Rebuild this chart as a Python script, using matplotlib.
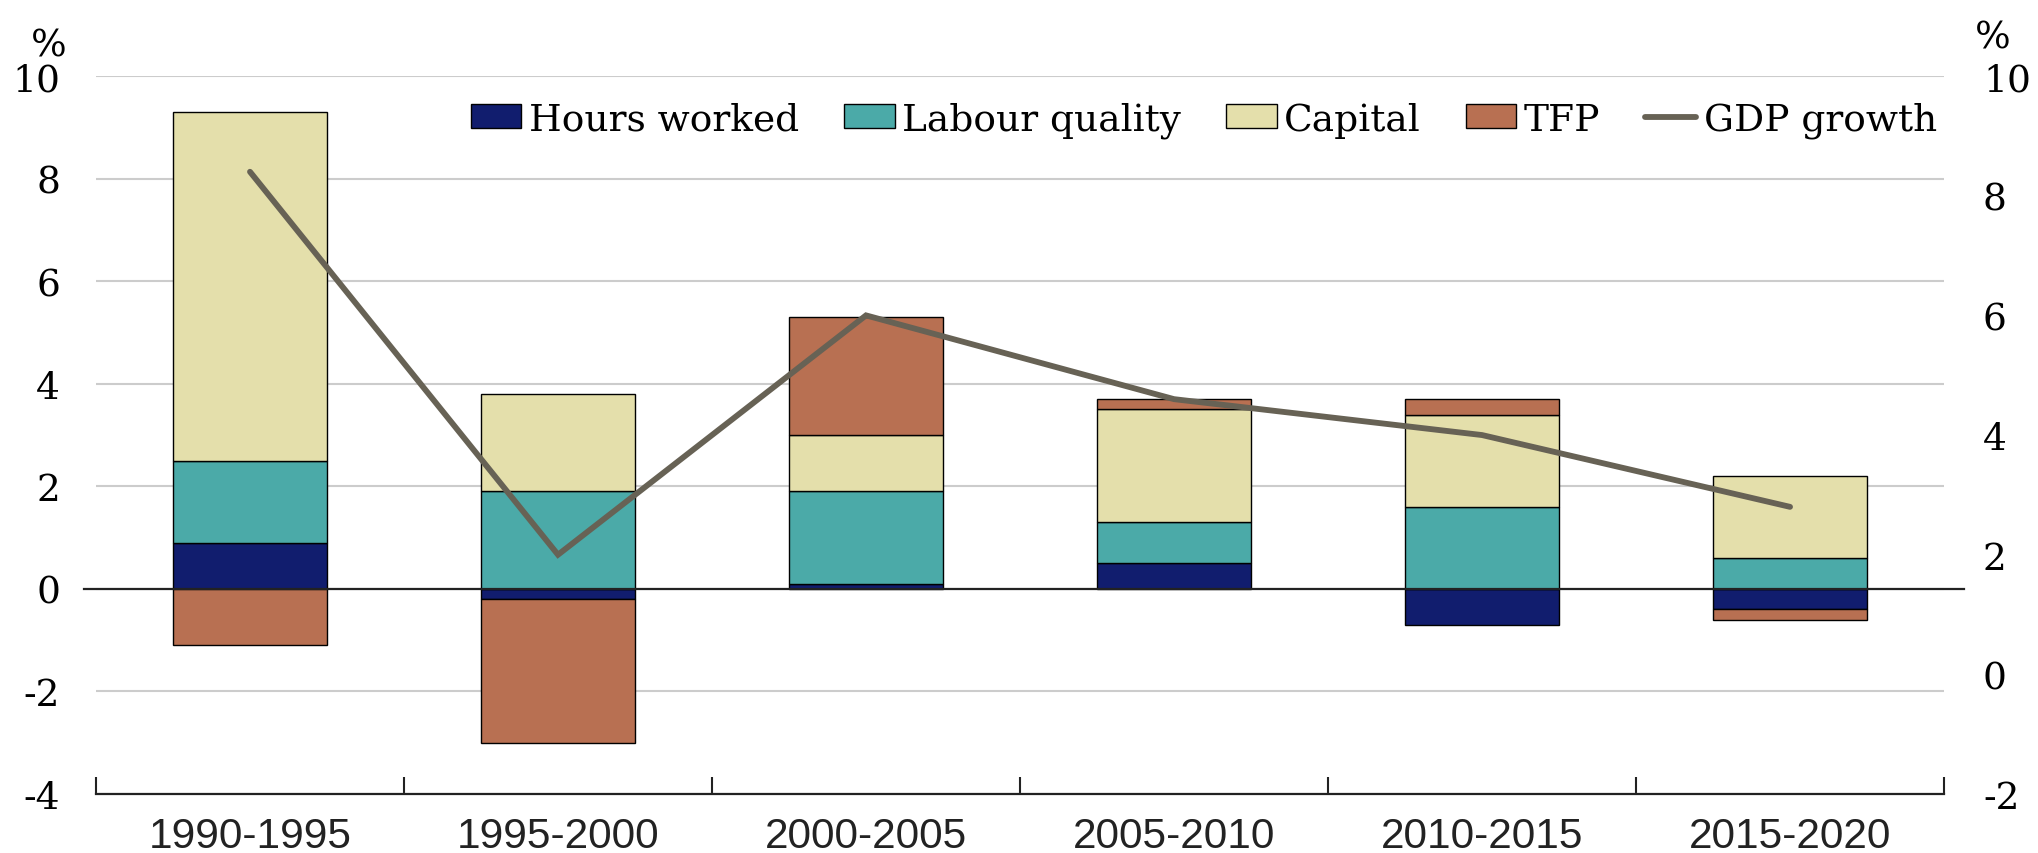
import numpy as np
import matplotlib.pyplot as plt
from matplotlib import font_manager
from matplotlib.patches import Patch
from matplotlib.lines import Line2D

# ================= Data =================
periods = ['1990-1995', '1995-2000', '2000-2005', '2005-2010', '2010-2015', '2015-2020']
hours_worked = [0.9, -0.2, 0.1, 0.5, -0.7, -0.4]
labour_quality = [1.6, 1.9, 1.8, 0.8, 1.6, 0.6]
capital = [6.8, 1.9, 1.1, 2.2, 1.8, 1.6]
tfp = [-1.1, -2.8, 2.3, 0.2, 0.3, -0.2]
gdp_growth = [8.4, 2.0, 6.0, 4.6, 4.0, 2.8]  # right axis

left_ticks = [-4, -2, 0, 2, 4, 6, 8, 10]
right_ticks = [-2, 0, 2, 4, 6, 8, 10]

series = [('Hours worked', hours_worked, '#111d6e'),
          ('Labour quality', labour_quality, '#4baaa8'),
          ('Capital', capital, '#e4dfab'),
          ('TFP', tfp, '#b87052')]
line_col = '#676255'

# ================= Fonts =================
installed = {f.name for f in font_manager.fontManager.ttflist}
serif = ['DejaVu Serif']
if 'Liberation Sans Narrow' in installed:
    xfont, xsize = 'Liberation Sans Narrow', 36
else:
    xfont, xsize = 'Liberation Sans', 30.5

# ================= Plot =================
fig = plt.figure(figsize=(20.38, 8.54), dpi=100)
ax = fig.add_axes([0.0471, 0.069, 0.9068, 0.8408])

x = np.arange(len(periods))
width = 0.5
pos_base = np.zeros(len(periods))
neg_base = np.zeros(len(periods))
for name, vals, col in series:
    vals = np.array(vals)
    bottoms = np.where(vals >= 0, pos_base, neg_base)
    ax.bar(x, vals, width, bottom=bottoms, color=col, edgecolor='black',
           linewidth=1.0, zorder=3)
    pos_base = pos_base + np.where(vals >= 0, vals, 0)
    neg_base = neg_base + np.where(vals < 0, vals, 0)

ax.set_xlim(-0.5, len(periods) - 0.5)
ax.set_ylim(-4, 10)
ax.set_yticks(left_ticks)
ax.set_yticklabels([str(t) for t in left_ticks], fontfamily=serif, fontsize=27)
ax.tick_params(axis='y', length=0, pad=26)
ax.grid(axis='y', color='#cccccc', linewidth=1.5, zorder=0)
ax.set_axisbelow(True)

# zero line
ax.axhline(0, xmin=-0.0065, xmax=1.011, color='#222222', linewidth=1.6,
           zorder=4, clip_on=False)

# category axis: labels at centres, ticks at boundaries
ax.set_xticks(x)
ax.set_xticklabels(periods, fontfamily=xfont, fontsize=xsize)
ax.set_xticks(np.arange(-0.5, len(periods)), minor=True)
ax.tick_params(axis='x', which='major', length=0, pad=16, colors='#222222')
ax.tick_params(axis='x', which='minor', direction='in', length=12, width=1.5,
               color='#222222')
for s in ['left', 'right', 'top']:
    ax.spines[s].set_visible(False)
ax.spines['bottom'].set_linewidth(1.6)
ax.spines['bottom'].set_color('#222222')

# GDP growth on the right axis
ax2 = ax.twinx()
ax2.plot(x, gdp_growth, color=line_col, linewidth=4.2, solid_capstyle='round',
         solid_joinstyle='miter', zorder=5)
ax2.set_ylim(-2, 10)
ax2.set_yticks(right_ticks)
ax2.set_yticklabels([str(t) for t in right_ticks], fontfamily=serif, fontsize=27)
ax2.tick_params(axis='y', length=0, pad=28)
for s in ['left', 'right', 'top', 'bottom']:
    ax2.spines[s].set_visible(False)

fig.text(0.024, 0.945, '%', fontfamily=serif, fontsize=27, ha='center', va='center')
fig.text(0.978, 0.955, '%', fontfamily=serif, fontsize=27, ha='center', va='center')

# ================= Legend =================
handles = [Patch(facecolor=col, edgecolor='black', linewidth=1.0) for _, _, col in series]
handles.append(Line2D([0], [0], color=line_col, linewidth=4.2, solid_capstyle='round'))
labels = [name for name, _, _ in series] + ['GDP growth']
ax2.legend(handles, labels, loc='center right', bbox_to_anchor=(0.996, 0.939),
           ncol=5, frameon=False, prop={'family': serif, 'size': 27},
           handlelength=1.35, handleheight=0.6, handletextpad=0.2,
           columnspacing=1.2, borderaxespad=0, borderpad=0)

plt.savefig('out.png', dpi=100)
plt.close()
